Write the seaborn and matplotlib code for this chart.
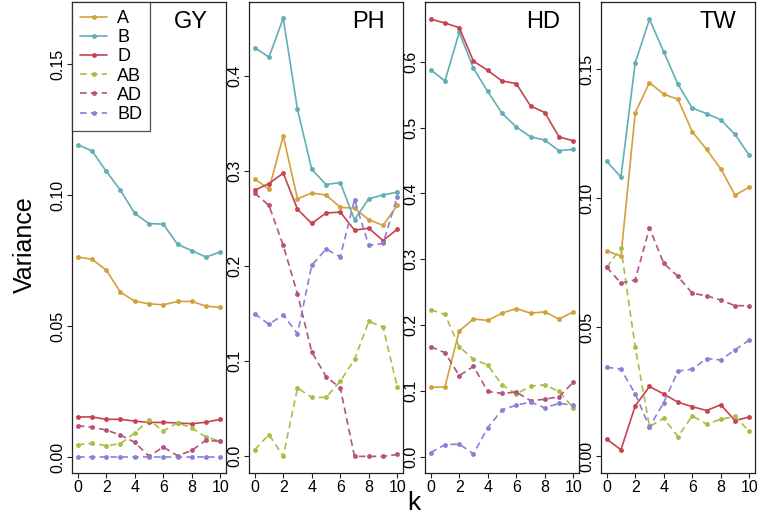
import pandas as pd
import numpy as np
import matplotlib.pyplot as plt
import seaborn as sns

# --- DATA ---
k = list(range(11))
series_names = ["A", "B", "D", "AB", "AD", "BD"]
traits = ["GY", "PH", "HD", "TW"]

gy_A = [0.0763, 0.0755, 0.0714, 0.0629, 0.0595, 0.0585, 0.0581, 0.0594, 0.0594, 0.0576, 0.0571]
gy_B = [0.1192, 0.1169, 0.1091, 0.1018, 0.0930, 0.0891, 0.0889, 0.0812, 0.0788, 0.0763, 0.0783]
gy_D = [0.0153, 0.0153, 0.0144, 0.0144, 0.0137, 0.0132, 0.0132, 0.0130, 0.0127, 0.0133, 0.0144]
gy_AB = [0.0047, 0.0052, 0.0043, 0.0051, 0.0092, 0.0142, 0.0099, 0.0131, 0.0111, 0.0076, 0.0061]
gy_AD = [0.0119, 0.0114, 0.0103, 0.0084, 0.0056, 0.0003, 0.0038, 0.0005, 0.0025, 0.0064, 0.0060]
gy_BD = [0.0] * 11

ph_A = [0.292, 0.281, 0.337, 0.271, 0.277, 0.275, 0.262, 0.261, 0.249, 0.243, 0.264]
ph_B = [0.430, 0.420, 0.461, 0.365, 0.302, 0.286, 0.288, 0.249, 0.271, 0.275, 0.278]
ph_D = [0.280, 0.287, 0.298, 0.260, 0.245, 0.256, 0.257, 0.238, 0.240, 0.227, 0.239]
ph_AB = [0.007, 0.023, 0.000, 0.072, 0.062, 0.062, 0.079, 0.102, 0.142, 0.136, 0.073]
ph_AD = [0.277, 0.264, 0.222, 0.171, 0.110, 0.084, 0.072, 0.000, 0.000, 0.000, 0.002]
ph_BD = [0.150, 0.139, 0.149, 0.129, 0.201, 0.218, 0.210, 0.270, 0.222, 0.224, 0.273]

hd_A = [0.105, 0.106, 0.191, 0.209, 0.207, 0.218, 0.225, 0.218, 0.220, 0.209, 0.220]
hd_B = [0.588, 0.571, 0.645, 0.590, 0.555, 0.522, 0.501, 0.486, 0.481, 0.465, 0.467]
hd_D = [0.665, 0.659, 0.652, 0.601, 0.587, 0.571, 0.567, 0.533, 0.523, 0.486, 0.480]
hd_AB = [0.223, 0.216, 0.167, 0.148, 0.139, 0.109, 0.095, 0.107, 0.109, 0.099, 0.074]
hd_AD = [0.167, 0.158, 0.123, 0.137, 0.099, 0.096, 0.098, 0.085, 0.087, 0.091, 0.113]
hd_BD = [0.006, 0.018, 0.019, 0.004, 0.044, 0.071, 0.078, 0.083, 0.074, 0.081, 0.078]

tw_A = [0.0796, 0.0776, 0.1331, 0.1448, 0.1403, 0.1383, 0.1258, 0.1189, 0.1114, 0.1012, 0.1043]
tw_B = [0.1143, 0.1082, 0.1525, 0.1693, 0.1567, 0.1441, 0.1349, 0.1328, 0.1304, 0.1247, 0.1166]
tw_D = [0.0067, 0.0026, 0.0196, 0.0271, 0.0242, 0.0210, 0.0193, 0.0178, 0.0200, 0.0139, 0.0153]
tw_AB = [0.0733, 0.0807, 0.0423, 0.0116, 0.0148, 0.0077, 0.0157, 0.0126, 0.0144, 0.0155, 0.0097]
tw_AD = [0.0733, 0.0671, 0.0684, 0.0885, 0.0748, 0.0697, 0.0632, 0.0622, 0.0606, 0.0584, 0.0584]
tw_BD = [0.0346, 0.0338, 0.0242, 0.0114, 0.0209, 0.0331, 0.0338, 0.0379, 0.0374, 0.0413, 0.0451]

trait_data = {
    "GY": [gy_A, gy_B, gy_D, gy_AB, gy_AD, gy_BD],
    "PH": [ph_A, ph_B, ph_D, ph_AB, ph_AD, ph_BD],
    "HD": [hd_A, hd_B, hd_D, hd_AB, hd_AD, hd_BD],
    "TW": [tw_A, tw_B, tw_D, tw_AB, tw_AD, tw_BD],
}

y_ticks = {
    "GY": [0.00, 0.05, 0.10, 0.15],
    "PH": [0.0, 0.1, 0.2, 0.3, 0.4],
    "HD": [0.0, 0.1, 0.2, 0.3, 0.4, 0.5, 0.6],
    "TW": [0.00, 0.05, 0.10, 0.15],
}
y_fmt = {"GY": "{:.2f}", "PH": "{:.1f}", "HD": "{:.1f}", "TW": "{:.2f}"}
y_lims = {"GY": (-0.0061, 0.1737), "PH": (-0.0175, 0.478),
          "HD": (-0.025, 0.691), "TW": (-0.0064, 0.176)}

# long table for seaborn
rows = []
for t in traits:
    for name, vals in zip(series_names, trait_data[t]):
        for kk, v in zip(k, vals):
            rows.append({"trait": t, "k": kk, "component": name, "variance": v})
df = pd.DataFrame(rows)

palette = {"A": "#D4A03C", "B": "#62AEB6", "D": "#C8424F",
           "AB": "#A9BE45", "AD": "#B45282", "BD": "#8C80D6"}
dashes = {"A": "", "B": "", "D": "", "AB": (4, 2.5), "AD": (4, 2.5), "BD": (4, 2.5)}

# --- PLOT ---
sns.set_theme(style="ticks")
plt.rcParams['font.family'] = ['Liberation Sans', 'DejaVu Sans']
plt.rcParams['text.color'] = 'black'
plt.rcParams['xtick.color'] = 'black'
plt.rcParams['ytick.color'] = 'black'

fig = plt.figure(figsize=(7.57, 5.2), dpi=100)
W, H = 757, 520
lefts = [72, 249, 425, 601]
pw = 154
top, bottom = 2, 473

for i, t in enumerate(traits):
    ax = fig.add_axes([lefts[i] / W, 1 - bottom / H, pw / W, (bottom - top) / H])
    sub = df[df["trait"] == t]
    sns.lineplot(data=sub, x="k", y="variance", hue="component", style="component",
                 hue_order=series_names, style_order=series_names,
                 palette=palette, dashes=dashes, markers=["o"] * 6,
                 markersize=3.5, markeredgewidth=0, linewidth=1.2,
                 legend=(i == 0), ax=ax)
    ax.set_xlim(-0.4, 10.4)
    ax.set_ylim(*y_lims[t])
    ax.set_xticks([0, 2, 4, 6, 8, 10])
    ax.set_xticklabels(["0", "2", "4", "6", "8", "10"], fontsize=11.5)
    ax.set_yticks(y_ticks[t])
    ax.set_yticklabels([y_fmt[t].format(v) for v in y_ticks[t]], fontsize=11.5,
                       rotation=90, va="center")
    ax.tick_params(length=3.5, width=0.8, color="#222222", pad=1.5)
    for sp in ax.spines.values():
        sp.set_visible(True)
        sp.set_linewidth(0.9)
        sp.set_color("#222222")
    ax.set_xlabel("")
    ax.set_ylabel("")
    ax.text(0.88, 0.958, t, transform=ax.transAxes, ha="right", va="center", fontsize=17)
    if i == 0:
        leg = ax.legend(loc="upper left", bbox_to_anchor=(0, 1), borderaxespad=0,
                        fontsize=13, frameon=True, fancybox=False, handlelength=1.5,
                        labelspacing=0.12, handletextpad=0.55, borderpad=0.45)
        leg.get_frame().set_edgecolor("#222222")
        leg.get_frame().set_linewidth(0.9)

fig.text(25 / W, 1 - 245 / H, "Variance", rotation=90, ha="center", va="center", fontsize=18)
fig.text(414 / W, 1 - 503 / H, "k", ha="center", va="center", fontsize=19)

fig.savefig("out.png", dpi=100)
